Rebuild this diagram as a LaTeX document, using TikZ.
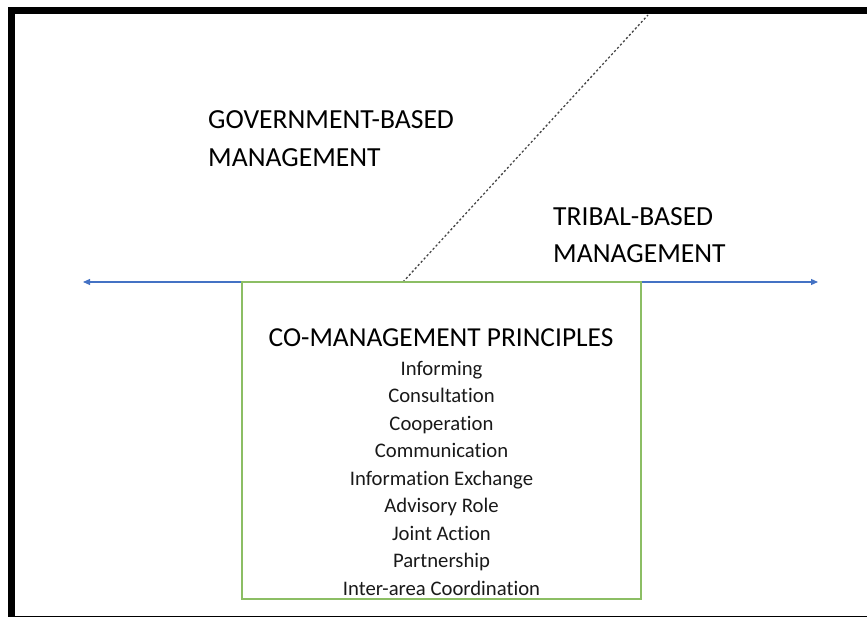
\documentclass[tikz,border=0pt]{standalone}
\usepackage{fontspec}
\setmainfont{Carlito}[Ligatures=NoCommon]
\usetikzlibrary{arrows.meta}
\definecolor{axisblue}{RGB}{68,114,196}
\definecolor{boxgreen}{RGB}{140,190,100}
\definecolor{dashgray}{RGB}{70,70,70}
\tikzset{
  biglabel/.style={font={\fontsize{27.6}{37.5}\selectfont}, inner sep=0pt, align=left, text=black},
  titlelabel/.style={font={\fontsize{27.4}{33}\selectfont}, inner sep=0pt, text=black},
  itemlabel/.style={font={\fontsize{20.7}{28}\selectfont}, inner sep=0pt, text=black!90},
  axis/.style={draw=axisblue, line width=1.1pt, {Triangle[length=7pt,width=6pt]}-{Triangle[length=7pt,width=6pt]}},
  principlebox/.style={draw=boxgreen, line width=1.2pt},
  divider/.style={draw=dashgray, line width=1.3pt, dash pattern=on 2.2pt off 2.2pt},
  frame/.style={draw=black, line cap=butt}
}
\begin{document}
\begin{tikzpicture}[x=1pt,y=-1pt]
\useasboundingbox (0,0) rectangle (867,617);
\begin{scope}
\clip (0,0) rectangle (867,617);
% frame
\coordinate (fbl) at (11,630);
\coordinate (ftl) at (11,11);
\coordinate (ftr) at (880,11);
\draw[frame, line width=7pt, line join=miter] (fbl) -- (ftl) -- (ftr);
\coordinate (fb1) at (8,616.5);
\coordinate (fb2) at (880,616.5);
\draw[frame, line width=2pt] (fb1) -- (fb2);
\end{scope}
% axis
\coordinate (aleft) at (83,282);
\coordinate (aright) at (818,282);
\draw[axis] (aleft) -- (aright);
% dashed divider
\coordinate (dlow) at (403,282);
\coordinate (dhigh) at (648,15);
\draw[divider] (dlow) -- (dhigh);
% box
\node[principlebox, minimum width=399pt, minimum height=317pt, inner sep=0pt] (box) at (441.5,440.5) {};
% labels
\node[biglabel, anchor=base west] (gov) at (208,166.5) {GOVERNMENT-BASED\\MANAGEMENT};
\node[biglabel, anchor=base west] (tribal) at (553,263) {TRIBAL-BASED\\MANAGEMENT};
\node[titlelabel, anchor=base] (title) at (441,347) {CO-MANAGEMENT PRINCIPLES};
\foreach \t [count=\i] in {Informing, Consultation, Cooperation, Communication, Information Exchange, Advisory Role, Joint Action, Partnership, Inter-area Coordination}
  \node[itemlabel, anchor=base] (item\i) at (441.5,347.5+27.5*\i) {\t};
\end{tikzpicture}
\end{document}
